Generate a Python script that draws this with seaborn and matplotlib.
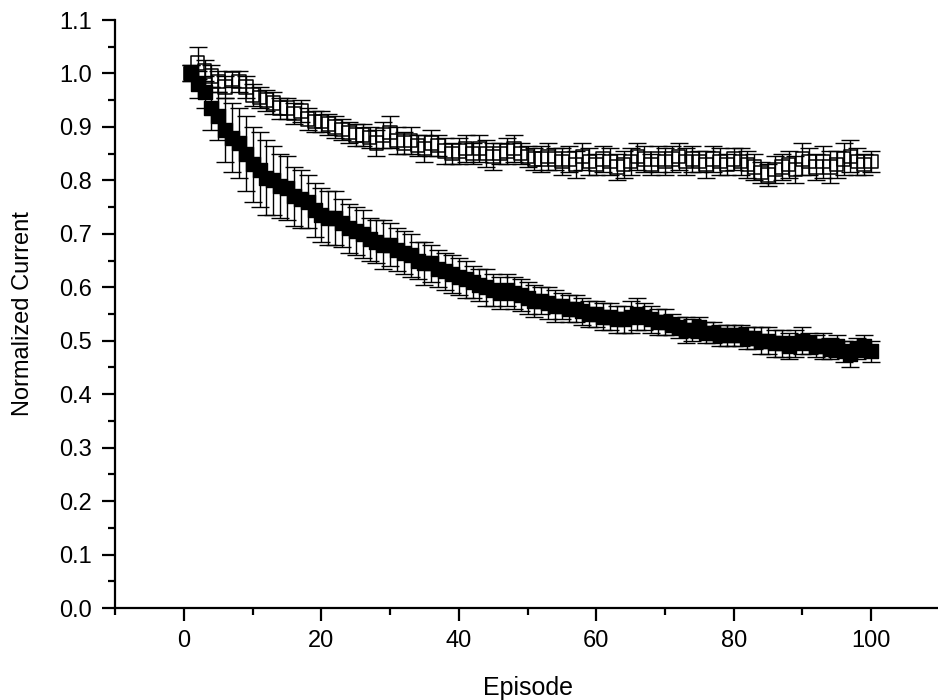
import numpy as np
import pandas as pd
import matplotlib
matplotlib.use("Agg")
import matplotlib.pyplot as plt
import seaborn as sns
from matplotlib.ticker import MultipleLocator

episodes = list(range(1, 101))

filled_mean = [
    1.000, 0.980, 0.965, 0.935, 0.920, 0.895, 0.880, 0.870, 0.850, 0.830,
    0.820, 0.805, 0.800, 0.790, 0.785, 0.770, 0.765, 0.760, 0.745, 0.735,
    0.730, 0.730, 0.720, 0.710, 0.705, 0.700, 0.690, 0.685, 0.680, 0.680,
    0.670, 0.665, 0.660, 0.650, 0.645, 0.645, 0.635, 0.630, 0.625, 0.620,
    0.615, 0.610, 0.605, 0.600, 0.595, 0.590, 0.595, 0.590, 0.585, 0.580,
    0.575, 0.575, 0.570, 0.565, 0.565, 0.560, 0.560, 0.555, 0.550, 0.550,
    0.545, 0.545, 0.540, 0.540, 0.545, 0.550, 0.545, 0.540, 0.535, 0.535,
    0.530, 0.525, 0.520, 0.520, 0.525, 0.515, 0.515, 0.510, 0.510, 0.510,
    0.510, 0.505, 0.505, 0.500, 0.500, 0.495, 0.495, 0.490, 0.495, 0.500,
    0.495, 0.490, 0.490, 0.485, 0.490, 0.480, 0.475, 0.485, 0.490, 0.480,
]
filled_err = [
    0.015, 0.025, 0.030, 0.040, 0.045, 0.060, 0.065, 0.065, 0.070, 0.070,
    0.070, 0.070, 0.065, 0.060, 0.060, 0.055, 0.055, 0.050, 0.050, 0.050,
    0.050, 0.050, 0.045, 0.045, 0.045, 0.045, 0.040, 0.040, 0.045, 0.040,
    0.040, 0.040, 0.040, 0.035, 0.040, 0.035, 0.035, 0.035, 0.035, 0.035,
    0.035, 0.030, 0.030, 0.035, 0.030, 0.030, 0.030, 0.030, 0.030, 0.030,
    0.030, 0.025, 0.030, 0.030, 0.025, 0.025, 0.025, 0.025, 0.025, 0.025,
    0.025, 0.025, 0.025, 0.025, 0.030, 0.030, 0.025, 0.025, 0.025, 0.025,
    0.020, 0.020, 0.025, 0.020, 0.020, 0.020, 0.020, 0.020, 0.020, 0.020,
    0.020, 0.020, 0.020, 0.025, 0.025, 0.025, 0.025, 0.025, 0.025, 0.025,
    0.020, 0.020, 0.025, 0.020, 0.020, 0.020, 0.025, 0.020, 0.020, 0.020,
]

open_mean = [
    1.000, 1.020, 1.005, 0.995, 0.985, 0.975, 0.990, 0.985, 0.975, 0.960,
    0.955, 0.950, 0.945, 0.935, 0.935, 0.925, 0.930, 0.915, 0.910, 0.910,
    0.905, 0.900, 0.895, 0.890, 0.885, 0.885, 0.880, 0.870, 0.885, 0.890,
    0.875, 0.870, 0.875, 0.865, 0.860, 0.870, 0.865, 0.855, 0.850, 0.855,
    0.860, 0.850, 0.860, 0.850, 0.845, 0.850, 0.855, 0.860, 0.850, 0.845,
    0.840, 0.840, 0.845, 0.840, 0.835, 0.840, 0.830, 0.845, 0.835, 0.830,
    0.840, 0.835, 0.825, 0.830, 0.835, 0.845, 0.840, 0.830, 0.840, 0.835,
    0.840, 0.845, 0.835, 0.840, 0.835, 0.830, 0.840, 0.835, 0.830, 0.840,
    0.835, 0.830, 0.825, 0.815, 0.810, 0.820, 0.825, 0.830, 0.820, 0.840,
    0.835, 0.825, 0.835, 0.825, 0.830, 0.840, 0.845, 0.835, 0.830, 0.835,
]
open_err = [
    0.015, 0.030, 0.020, 0.020, 0.020, 0.020, 0.015, 0.020, 0.020, 0.020,
    0.020, 0.020, 0.020, 0.020, 0.020, 0.020, 0.020, 0.020, 0.020, 0.020,
    0.020, 0.020, 0.020, 0.020, 0.020, 0.020, 0.020, 0.025, 0.025, 0.030,
    0.025, 0.020, 0.025, 0.020, 0.025, 0.025, 0.020, 0.025, 0.020, 0.025,
    0.025, 0.020, 0.025, 0.025, 0.025, 0.020, 0.025, 0.025, 0.020, 0.020,
    0.020, 0.025, 0.025, 0.020, 0.025, 0.025, 0.025, 0.025, 0.025, 0.020,
    0.025, 0.025, 0.025, 0.025, 0.025, 0.025, 0.025, 0.020, 0.025, 0.025,
    0.025, 0.025, 0.025, 0.025, 0.020, 0.025, 0.025, 0.025, 0.020, 0.020,
    0.025, 0.025, 0.025, 0.020, 0.020, 0.025, 0.025, 0.025, 0.025, 0.030,
    0.025, 0.025, 0.030, 0.030, 0.025, 0.030, 0.030, 0.025, 0.020, 0.020,
]

df = pd.DataFrame({
    "Episode": episodes * 2,
    "Current": filled_mean + open_mean,
    "err": filled_err + open_err,
    "series": ["filled"] * 100 + ["open"] * 100,
})

sns.set_style("ticks")
plt.rcParams["font.family"] = ["Liberation Sans", "DejaVu Sans"]

fig = plt.figure(figsize=(9.38, 7.0), dpi=100)
ax = fig.add_axes([0.1229, 0.1314, 0.879, 0.84])

for name in ["open", "filled"]:
    sub = df[df["series"] == name]
    ax.errorbar(sub["Episode"], sub["Current"], yerr=sub["err"], fmt="none",
                ecolor="black", elinewidth=1.0, capsize=6.5, capthick=1.0, zorder=2)

sub = df[df["series"] == "open"]
sns.scatterplot(data=sub, x="Episode", y="Current", marker="s", s=95,
                facecolor="none", edgecolor="black", linewidth=1.1, ax=ax, zorder=3)
sub = df[df["series"] == "filled"]
sns.scatterplot(data=sub, x="Episode", y="Current", marker="s", s=95,
                color="black", edgecolor="black", linewidth=1.0, ax=ax, zorder=4)

ax.set_xlim(-10, 110)
ax.set_ylim(0, 1.1)
ax.xaxis.set_minor_locator(MultipleLocator(10))
ax.yaxis.set_minor_locator(MultipleLocator(0.05))
yt = [0.0, 0.1, 0.2, 0.3, 0.4, 0.5, 0.6, 0.7, 0.8, 0.9, 1.0, 1.1]
ax.set_yticks(yt)
ax.set_yticklabels([f"{v:.1f}" for v in yt])
ax.set_xticks([0, 20, 40, 60, 80, 100])
ax.set_xticklabels(["0", "20", "40", "60", "80", "100"])

for s in ["top", "right"]:
    ax.spines[s].set_visible(False)
for s in ["left", "bottom"]:
    ax.spines[s].set_linewidth(1.6)
    ax.spines[s].set_color("black")

ax.tick_params(which="major", direction="out", length=9.5, width=1.6, labelsize=17,
               colors="black", labelcolor="black", pad=7)
ax.tick_params(which="minor", direction="out", length=5, width=1.6, colors="black")
ax.tick_params(axis="x", which="major", pad=6)

ax.set_xlabel("Episode", fontsize=18, color="black")
ax.set_ylabel("Normalized Current", fontsize=17, color="black")
ax.xaxis.set_label_coords(0.5, -0.115)
ax.yaxis.set_label_coords(-0.098, 0.5)

fig.savefig("out.png", dpi=100)
